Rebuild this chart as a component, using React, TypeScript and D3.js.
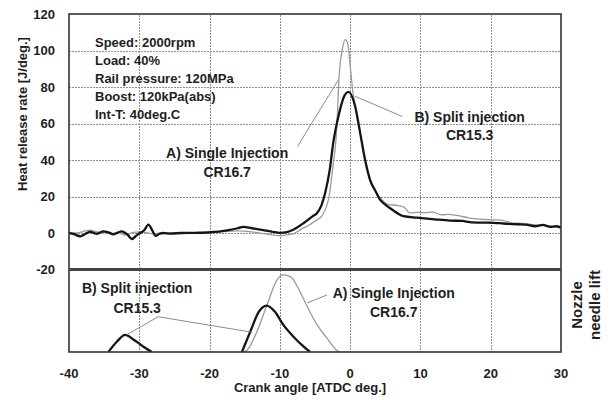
import React from "react";
import * as d3 from "d3";

const xTicks = [-40, -30, -20, -10, 0, 10, 20, 30];
const yTicks = [-20, 0, 20, 40, 60, 80, 100, 120];

// Heat release rate, B) split injection CR15.3 (black)
const hrrSplit: [number, number][] = [
  [-40, 0], [-39.3, -0.6], [-38.4, -1.8], [-37.6, -0.3], [-37, 0.6], [-36, -0.4], [-35.1, 0.9],
  [-34.3, 0.2], [-33.7, -0.7], [-32.5, 0.9], [-31.7, -0.8], [-31.05, -3.3], [-30.3, -1], [-29.9, 0],
  [-29.3, 1.5], [-28.7, 4.6], [-28.1, 1], [-27.7, -1.5], [-27.1, -0.4], [-26.6, 0], [-25.6, -0.3],
  [-24, 0], [-22, 0.1], [-19.9, 0.4], [-17.5, 1.5], [-16, 2.6], [-15.2, 3.4], [-14, 2.6],
  [-12.8, 1.8], [-11, 0.6], [-10, 0.1], [-9, 0.5], [-8.1, 1.8], [-6.6, 5.5], [-5.4, 9], [-4.7, 11],
  [-4.1, 15], [-3.55, 22], [-2.9, 34.7], [-2.4, 49.5], [-1.66, 64], [-0.95, 74], [-0.24, 77.3],
  [0.7, 69.6], [1.42, 55], [2.13, 40], [2.84, 29], [3.6, 23], [4.3, 18], [5, 15.5], [6.2, 12.2],
  [7.1, 10], [7.6, 9.2], [9.5, 8.4], [12, 7.5], [14.2, 6.8], [16, 6.6], [17, 6], [19, 5.7],
  [20.5, 5.6], [21.8, 5.2], [23.7, 4.8], [25, 4.6], [26.3, 3.7], [27.4, 4.4], [28.5, 3.4],
  [29.3, 3.7], [30, 2.9],
];

// Heat release rate, A) single injection CR16.7 (grey)
const hrrSingle: [number, number][] = [
  [-40, 0.5], [-39, 0], [-38, 0.8], [-37, 1.6], [-36, 0.6], [-35, 0.2], [-34, -0.5], [-33, 0.4],
  [-32, -1.2], [-31, 0.2], [-30, 0.6], [-29, 0.2], [-28, -0.5], [-27, 0.1], [-26, 0], [-24, -0.2],
  [-22, 0], [-20, 0.3], [-18, 0.8], [-16, 1.2], [-14, 0.6], [-12, -0.5], [-10, -1.5], [-9, -1],
  [-8, -0.3], [-7, 2], [-6, 4], [-5, 6.5], [-4, 9.5], [-3, 20], [-2.4, 38], [-2, 52], [-1.8, 66],
  [-1.6, 84], [-1.1, 101], [-0.7, 106], [-0.35, 104], [0, 92], [0.4, 77], [0.8, 68], [1.4, 55],
  [2.1, 41], [2.8, 30], [3.6, 23], [4.7, 17.5], [5.5, 15.5], [6.5, 15.2], [7.6, 14.3], [8.5, 11],
  [9.5, 11.3], [10.5, 11.2], [11.8, 11.4], [13, 10], [14, 10.2], [15.2, 9.6], [17, 8.2],
  [19, 7.4], [20.5, 7.2], [21.8, 6.8], [23, 5.6], [24.5, 5.2], [26, 4.6], [27.5, 4], [29, 3.6], [30, 3],
];

// Nozzle needle lift (relative), A) single injection (grey)
const liftSingle: [number, number][] = [
  [-15.2, 0], [-14.7, 0.02], [-13.3, 0.24], [-11.85, 0.57], [-10.4, 0.88], [-9.5, 0.94],
  [-8.5, 0.92], [-7.1, 0.73], [-6.2, 0.57], [-4.7, 0.33], [-3.3, 0.17], [-1.9, 0.02], [-1.5, 0],
];

// Nozzle needle lift, B) split injection (black): pilot and main
const liftSplitPilot: [number, number][] = [
  [-34.4, 0], [-33.2, 0.125], [-32, 0.21], [-30.8, 0.15], [-29.4, 0.065], [-28.2, 0],
];
const liftSplitMain: [number, number][] = [
  [-15.4, 0], [-14.2, 0.25], [-13, 0.49], [-11.85, 0.565], [-10.7, 0.49], [-9.5, 0.33],
  [-8.1, 0.19], [-6.6, 0.065], [-5.7, 0],
];

const infoLines = [
  "Speed: 2000rpm",
  "Load: 40%",
  "Rail pressure: 120MPa",
  "Boost: 120kPa(abs)",
  "Int-T: 40deg.C",
];

const FONT = "'Liberation Sans', Arial, sans-serif";
const TXT = "#1e1e1e";

export default function App() {
  const left = 69, right = 561;
  const topY = 14, midY = 269.5, botY = 352;

  const x = d3.scaleLinear().domain([-40, 30]).range([left, right]);
  const y = d3.scaleLinear().domain([-20, 120]).range([midY, topY]);
  const yl = d3.scaleLinear().domain([0, 1]).range([botY, 270]);

  const line = d3.line<[number, number]>().x(d => x(d[0])).y(d => y(d[1])).curve(d3.curveMonotoneX);
  const lineL = d3.line<[number, number]>().x(d => x(d[0])).y(d => yl(d[1])).curve(d3.curveMonotoneX);
  const poly = d3.line<[number, number]>().x(d => x(d[0])).y(d => y(d[1]));
  const polyL = d3.line<[number, number]>().x(d => x(d[0])).y(d => yl(d[1]));

  const gridY = yTicks.filter(v => v > -20 && v < 120);
  const gridX = xTicks.filter(v => v > -40 && v < 30);

  return (
    <svg width={610} height={400} style={{ position: "absolute", left: 0, top: 0, background: "#fff" }}
      fontFamily={FONT}>
      <defs>
        <clipPath id="topclip"><rect x={left} y={topY} width={right - left} height={midY - topY} /></clipPath>
        <clipPath id="botclip"><rect x={left} y={270} width={right - left} height={botY - 270} /></clipPath>
        <pattern id="hdots" width={3} height={1} patternUnits="userSpaceOnUse">
          <rect x={0} y={0} width={2} height={1} fill="#8f8f8f" />
        </pattern>
        <pattern id="vdots" width={1} height={3} patternUnits="userSpaceOnUse">
          <rect x={0} y={0} width={1} height={2} fill="#8f8f8f" />
        </pattern>
      </defs>
      {/* grid (dotted), drawn as thin filled rects */}
      <g>
        {gridY.map(v => (
          <rect key={"gy" + v} x={left} y={Math.round(y(v))} width={right - left} height={1} fill="url(#hdots)" />
        ))}
        {gridX.map(v => (
          <rect key={"gx" + v} x={Math.round(x(v))} y={topY} width={1} height={botY - topY} fill="url(#vdots)" />
        ))}
      </g>
      {/* curves top */}
      <g clipPath="url(#topclip)" fill="none">
        <path d={line(hrrSingle) || ""} stroke="#9a9a9a" strokeWidth={1.3} />
        <path d={line(hrrSplit) || ""} stroke="#151515" strokeWidth={2.3} />
      </g>
      {/* curves bottom */}
      <g clipPath="url(#botclip)" fill="none">
        <path d={lineL(liftSingle) || ""} stroke="#9a9a9a" strokeWidth={1.3} />
        <path d={lineL(liftSplitPilot) || ""} stroke="#151515" strokeWidth={2.3} />
        <path d={lineL(liftSplitMain) || ""} stroke="#151515" strokeWidth={2.3} />
      </g>
      {/* leader lines */}
      <g fill="none" stroke="#8a8a8a" strokeWidth={1}>
        <path d={poly([[-7.5, 47.4], [-1.7, 83.7]]) || ""} />
        <path d={poly([[7.4, 63.9], [0.7, 74.9]]) || ""} />
        <path d={polyL([[-31.8, 0.21], [-27.3, 0.43], [-13.9, 0.24]]) || ""} />
        <path d={polyL([[-3.3, 0.695], [-6.1, 0.6]]) || ""} />
      </g>
      {/* frames */}
      <rect x={left} y={topY} width={right - left} height={botY - topY} fill="none" stroke="#333" strokeWidth={1.6} />
      <line x1={left} x2={right} y1={midY} y2={midY} stroke="#444" strokeWidth={3} />
      {/* y ticks */}
      <g fontSize={13} fontWeight="bold" fill={TXT} textAnchor="end">
        {yTicks.map(v => <text key={"yt" + v} x={55} y={y(v)} dy="0.35em">{v}</text>)}
      </g>
      <g fontSize={13} fontWeight="bold" fill={TXT} textAnchor="middle">
        {xTicks.map(v => <text key={"xt" + v} x={x(v)} y={373} dy="0.35em">{v}</text>)}
      </g>
      <text x={310} y={387} dy="0.35em" textAnchor="middle" fontSize={13} fontWeight="bold" fill={TXT}>
        Crank angle [ATDC deg.]
      </text>
      <text transform={`translate(22,114) rotate(-90)`} textAnchor="middle"
        dy="0.35em" fontSize={13} fontWeight="bold" fill={TXT}>
        Heat release rate [J/deg.]
      </text>
      <g fontSize={15} fontWeight="bold" fill={TXT} textAnchor="middle">
        <text transform={`translate(577,305) rotate(-90)`} dy="0.35em">Nozzle</text>
        <text transform={`translate(595,305) rotate(-90)`} dy="0.35em">needle lift</text>
      </g>
      {/* info block */}
      <g fontSize={13} fontWeight="bold" fill={TXT}>
        {infoLines.map((s, i) => <text key={s} x={95} y={42 + i * 18.1} dy="0.35em">{s}</text>)}
      </g>
      {/* annotations */}
      <g fontSize={14} fontWeight="bold" fill={TXT} textAnchor="middle">
        <text x={x(-17.5)} y={y(44)} dy="0.35em">A) Single Injection</text>
        <text x={x(-17.5)} y={y(33.5)} dy="0.35em">CR16.7</text>
        <text x={x(17)} y={y(63.5)} dy="0.35em">B) Split injection</text>
        <text x={x(17)} y={y(53.5)} dy="0.35em">CR15.3</text>
        <text x={x(-30.3)} y={yl(0.78)} dy="0.35em">B) Split injection</text>
        <text x={x(-30.3)} y={yl(0.54)} dy="0.35em">CR15.3</text>
        <text x={x(6.2)} y={yl(0.72)} dy="0.35em">A) Single Injection</text>
        <text x={x(6.2)} y={yl(0.49)} dy="0.35em">CR16.7</text>
      </g>
    </svg>
  );
}
